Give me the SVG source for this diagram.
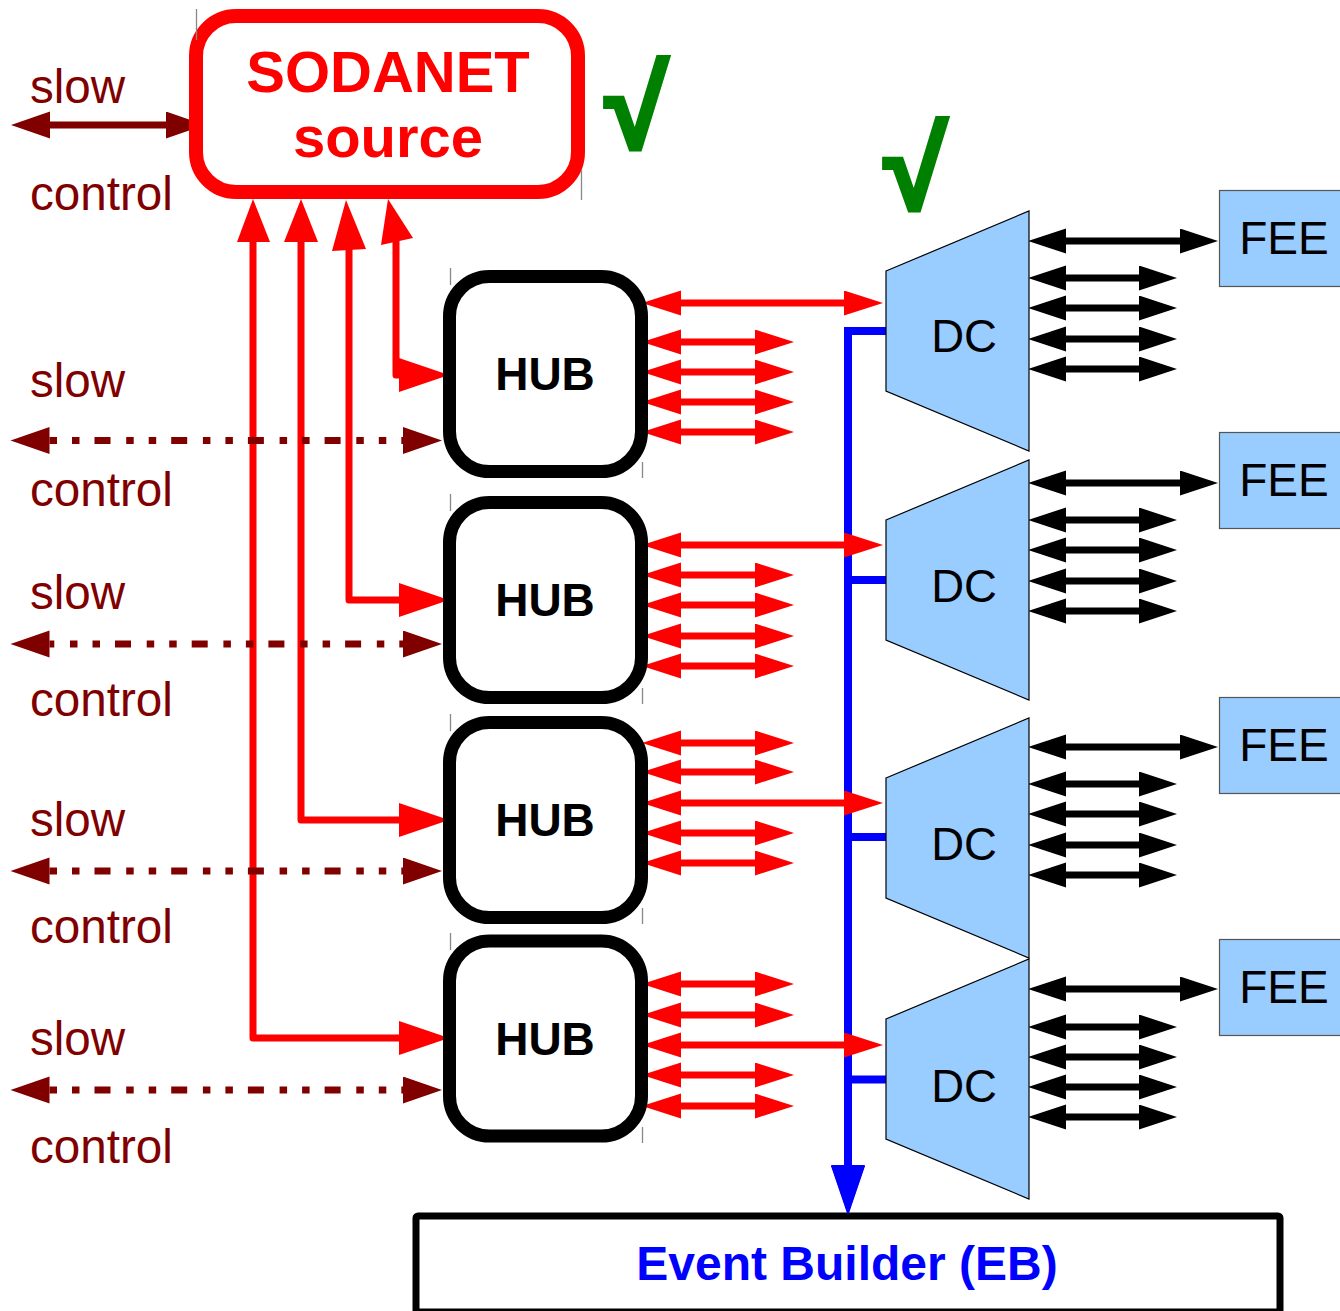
<svg xmlns="http://www.w3.org/2000/svg" width="1340" height="1311" viewBox="0 0 1340 1311">
  <style>
    text { font-family: "Liberation Sans", Arial, sans-serif; }
    .lbl { font-size: 47.6px; fill: #800000; }
    .hubbox { fill: #fff; stroke: #000; stroke-width: 13; }
    .hubtxt { font-size: 46px; font-weight: bold; fill: #000; text-anchor: middle; }
    .dc { fill: #99ccff; stroke: #000; stroke-width: 1.2; }
    .dctxt { font-size: 45.5px; fill: #000; text-anchor: middle; }
    .feetxt { font-size: 46px; fill: #000; text-anchor: middle; }
    .fee { fill: #99ccff; stroke: #555; stroke-width: 1.2; }
    .redsrc { fill: none; stroke: #f00; stroke-width: 7; stroke-linejoin: round; marker-end: url(#aEntry); }
    .redbi { fill: none; stroke: #f00; stroke-width: 7; marker-start: url(#aRed); marker-end: url(#aRed); }
    .blkbi { fill: none; stroke: #000; stroke-width: 7; marker-start: url(#aBlk); marker-end: url(#aBlk); }
    .slowbi { fill: none; stroke: #800000; stroke-width: 7; marker-start: url(#aDark); marker-end: url(#aDark); }
    .slowdash { fill: none; stroke: #800000; stroke-width: 7; stroke-dasharray: 7.5 15 7.5 15 16 15.7; marker-start: url(#aDark); marker-end: url(#aDark); }
    .bus { fill: none; stroke: #00f; stroke-width: 8; }
    .uphead { fill: #f00; }
    .ghost { stroke: #888; stroke-width: 1.3; }
    .check { font-size: 115px; font-weight: bold; fill: #008000; stroke: #008000; stroke-width: 4; stroke-linejoin: miter; }
  </style>
  <defs>
    <marker id="aRed" markerUnits="userSpaceOnUse" viewBox="0 0 40 26" markerWidth="40" markerHeight="26" refX="0" refY="12.5" orient="auto-start-reverse">
      <path d="M0,0 L39,12.5 L0,25 z" fill="#f00"/>
    </marker>
    <marker id="aBlk" markerUnits="userSpaceOnUse" viewBox="0 0 40 26" markerWidth="40" markerHeight="26" refX="0" refY="12.5" orient="auto-start-reverse">
      <path d="M0,0 L38,12.5 L0,25 z" fill="#000"/>
    </marker>
    <marker id="aDark" markerUnits="userSpaceOnUse" viewBox="0 0 40 28" markerWidth="40" markerHeight="28" refX="0" refY="13.5" orient="auto-start-reverse">
      <path d="M0,0 L39,13.5 L0,27 z" fill="#800000"/>
    </marker>
    <marker id="aEntry" markerUnits="userSpaceOnUse" viewBox="0 0 52 36" markerWidth="52" markerHeight="36" refX="0" refY="17" orient="auto">
      <path d="M0,0 L50,17 L0,34 z" fill="#f00"/>
    </marker>
    <marker id="aBlue" markerUnits="userSpaceOnUse" viewBox="0 0 52 36" markerWidth="52" markerHeight="36" refX="0" refY="17" orient="auto">
      <path d="M0,0 L50,17 L0,34 z" fill="#00f"/>
    </marker>
  </defs>

  <rect width="1340" height="1311" fill="#fff"/>

  <!-- slow control labels -->
  <g id="labels">
    <text class="lbl" x="30" y="103">slow</text>
    <text class="lbl" x="30" y="210">control</text>
    <text class="lbl" x="30" y="397">slow</text>
    <text class="lbl" x="30" y="506">control</text>
    <text class="lbl" x="30" y="609">slow</text>
    <text class="lbl" x="30" y="716">control</text>
    <text class="lbl" x="30" y="836">slow</text>
    <text class="lbl" x="30" y="943">control</text>
    <text class="lbl" x="30" y="1055">slow</text>
    <text class="lbl" x="30" y="1163">control</text>
  </g>

  <g id="connectors">
    <!-- SODANET fan-out to the hubs -->
    <path class="redsrc" d="M253,240 V1038 H399"/>
    <path class="redsrc" d="M301,240 V820 H399"/>
    <path class="redsrc" d="M349,248 V600 H399"/>
    <path class="redsrc" d="M396,240 V375 H399"/>
    <polygon class="uphead" points="253,199 237,242 270,242"/>
    <polygon class="uphead" points="301,199 284,242 318,242"/>
    <polygon class="uphead" points="346,200 332,251 366,249"/>
    <polygon class="uphead" points="388,199 381,245 413,238"/>

    <!-- slow control links -->
    <path class="slowbi" d="M50,125 H166"/>
    <path class="slowdash" d="M49.5,440.5 H403"/>
    <path class="slowdash" style="stroke-dashoffset:56.2" d="M49.5,644 H403"/>
    <path class="slowdash" d="M49.5,871 H403"/>
    <path class="slowdash" d="M49.5,1090 H403"/>

    <!-- readout bus to the event builder -->
    <path class="bus" d="M886,331 H848 V1166" marker-end="url(#aBlue)"/>
    <path class="bus" d="M848,580 H886"/>
    <path class="bus" d="M848,837 H886"/>
    <path class="bus" d="M848,1079.5 H886"/>

    <!-- hub links -->
    <path class="redbi" d="M681,303 H844"/>
    <path class="redbi" d="M681,342 H755"/>
    <path class="redbi" d="M681,372 H755"/>
    <path class="redbi" d="M681,402 H755"/>
    <path class="redbi" d="M681,432 H755"/>

    <path class="redbi" d="M681,545 H844"/>
    <path class="redbi" d="M681,575 H755"/>
    <path class="redbi" d="M681,605 H755"/>
    <path class="redbi" d="M681,636 H755"/>
    <path class="redbi" d="M681,666 H755"/>

    <path class="redbi" d="M681,743 H755"/>
    <path class="redbi" d="M681,772 H755"/>
    <path class="redbi" d="M681,803 H844"/>
    <path class="redbi" d="M681,833 H755"/>
    <path class="redbi" d="M681,863 H755"/>

    <path class="redbi" d="M681,984 H755"/>
    <path class="redbi" d="M681,1015 H755"/>
    <path class="redbi" d="M681,1045 H844"/>
    <path class="redbi" d="M681,1075 H755"/>
    <path class="redbi" d="M681,1106 H755"/>

    <!-- DC to front-end links -->
    <path class="blkbi" d="M1066,241 H1180"/>
    <path class="blkbi" d="M1066,278 H1139"/>
    <path class="blkbi" d="M1066,308 H1139"/>
    <path class="blkbi" d="M1066,339 H1139"/>
    <path class="blkbi" d="M1066,369 H1139"/>

    <path class="blkbi" d="M1066,483 H1180"/>
    <path class="blkbi" d="M1066,520 H1139"/>
    <path class="blkbi" d="M1066,550 H1139"/>
    <path class="blkbi" d="M1066,581 H1139"/>
    <path class="blkbi" d="M1066,611 H1139"/>

    <path class="blkbi" d="M1066,747 H1180"/>
    <path class="blkbi" d="M1066,784 H1139"/>
    <path class="blkbi" d="M1066,814 H1139"/>
    <path class="blkbi" d="M1066,845 H1139"/>
    <path class="blkbi" d="M1066,875 H1139"/>

    <path class="blkbi" d="M1066,989 H1180"/>
    <path class="blkbi" d="M1066,1027 H1139"/>
    <path class="blkbi" d="M1066,1057 H1139"/>
    <path class="blkbi" d="M1066,1087 H1139"/>
    <path class="blkbi" d="M1066,1117 H1139"/>
  </g>

  <g id="sodanet">
    <rect x="196" y="16" width="382" height="176" rx="40" fill="#fff" stroke="#f00" stroke-width="14"/>
    <text x="388" y="92" font-size="58" font-weight="bold" fill="#f00" text-anchor="middle">SODANET</text>
    <text x="388" y="157" font-size="58" font-weight="bold" fill="#f00" text-anchor="middle">source</text>
    <line class="ghost" x1="196.5" y1="9" x2="196.5" y2="40"/>
    <line class="ghost" x1="581.5" y1="170" x2="581.5" y2="200"/>
  </g>

  <g id="check1"><text class="check" x="605" y="148">√</text></g>
  <g id="check2"><text class="check" x="884" y="209">√</text></g>

  <g id="hub1">
    <rect class="hubbox" x="449.5" y="276.5" width="192" height="195" rx="40"/>
    <text class="hubtxt" x="545" y="390">HUB</text>
    <line class="ghost" x1="450.5" y1="268" x2="450.5" y2="285"/>
    <line class="ghost" x1="642.5" y1="462" x2="642.5" y2="478"/>
  </g>
  <g id="hub2">
    <rect class="hubbox" x="449.5" y="502.5" width="192" height="195" rx="40"/>
    <text class="hubtxt" x="545" y="616">HUB</text>
    <line class="ghost" x1="450.5" y1="494" x2="450.5" y2="511"/>
    <line class="ghost" x1="642.5" y1="688" x2="642.5" y2="704"/>
  </g>
  <g id="hub3">
    <rect class="hubbox" x="449.5" y="722.5" width="192" height="195" rx="40"/>
    <text class="hubtxt" x="545" y="836">HUB</text>
    <line class="ghost" x1="450.5" y1="714" x2="450.5" y2="731"/>
    <line class="ghost" x1="642.5" y1="908" x2="642.5" y2="924"/>
  </g>
  <g id="hub4">
    <rect class="hubbox" x="449.5" y="941" width="192" height="195" rx="40"/>
    <text class="hubtxt" x="545" y="1055">HUB</text>
    <line class="ghost" x1="450.5" y1="933" x2="450.5" y2="950"/>
    <line class="ghost" x1="642.5" y1="1127" x2="642.5" y2="1143"/>
  </g>

  <g id="dc1">
    <polygon class="dc" points="886,271 1029,211 1029,451 886,391"/>
    <text class="dctxt" x="964" y="352">DC</text>
  </g>
  <g id="dc2">
    <polygon class="dc" points="886,520 1029,460 1029,700 886,640"/>
    <text class="dctxt" x="964" y="602">DC</text>
  </g>
  <g id="dc3">
    <polygon class="dc" points="886,778 1029,718 1029,958 886,898"/>
    <text class="dctxt" x="964" y="860">DC</text>
  </g>
  <g id="dc4">
    <polygon class="dc" points="886,1019 1029,959 1029,1199 886,1139"/>
    <text class="dctxt" x="964" y="1102">DC</text>
  </g>

  <g id="fee1">
    <rect class="fee" x="1219.5" y="190.5" width="130" height="96"/>
    <text class="feetxt" x="1284" y="254">FEE</text>
  </g>
  <g id="fee2">
    <rect class="fee" x="1219.5" y="432.5" width="130" height="96"/>
    <text class="feetxt" x="1284" y="496">FEE</text>
  </g>
  <g id="fee3">
    <rect class="fee" x="1219.5" y="697.5" width="130" height="96"/>
    <text class="feetxt" x="1284" y="761">FEE</text>
  </g>
  <g id="fee4">
    <rect class="fee" x="1219.5" y="939.5" width="130" height="96"/>
    <text class="feetxt" x="1284" y="1003">FEE</text>
  </g>

  <g id="eb">
    <rect x="416" y="1216" width="864" height="96" rx="2" fill="#fff" stroke="#000" stroke-width="7"/>
    <text x="847" y="1280" font-size="48" font-weight="bold" fill="#00f" text-anchor="middle">Event Builder (EB)</text>
  </g>
  <!-- the bus arrowhead rests on the builder's top edge -->
  <g id="bus-head">
    <polygon points="831,1165 865,1165 848,1215" fill="#00f"/>
  </g>
</svg>
